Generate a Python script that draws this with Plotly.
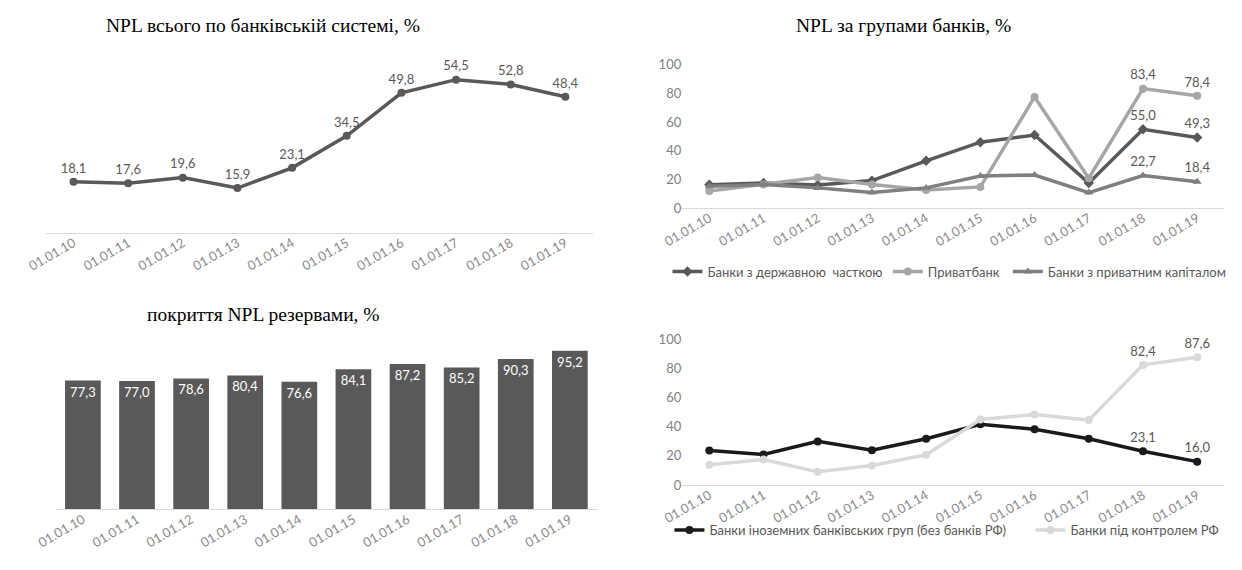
import plotly.graph_objects as go

dates = ["01.01.10", "01.01.11", "01.01.12", "01.01.13", "01.01.14",
         "01.01.15", "01.01.16", "01.01.17", "01.01.18", "01.01.19"]

npl_total = [18.1, 17.6, 19.6, 15.9, 23.1, 34.5, 49.8, 54.5, 52.8, 48.4]
coverage = [77.3, 77.0, 78.6, 80.4, 76.6, 84.1, 87.2, 85.2, 90.3, 95.2]

state_banks = [16.3, 17.5, 16.1, 19.2, 33.0, 46.0, 51.0, 17.5, 55.0, 49.3]
privatbank = [11.9, 16.4, 21.4, 16.4, 12.6, 14.8, 77.6, 20.9, 83.4, 78.4]
private_cap = [15.2, 16.4, 14.1, 10.8, 14.1, 22.4, 23.1, 10.8, 22.7, 18.4]

foreign_banks = [23.6, 20.9, 29.9, 23.8, 31.7, 41.6, 38.2, 31.7, 23.1, 16.0]
russian_banks = [13.9, 17.5, 9.0, 13.3, 20.7, 44.9, 48.3, 44.5, 82.4, 87.6]

titles = ["NPL всього по банківській системі, %",
          "NPL за групами банків, %",
          "покриття NPL резервами, %"]

W, H = 1234, 562   # figure sits at an 8px body offset inside the 1242x570 window
OFF = 8


def px(x):
    return (x - OFF) / W


def py(y):
    return 1 - (y - OFF) / H


def fmt(v):
    return f"{v:.1f}".replace(".", ",")


def last_two(vals):
    return ["" for _ in vals[:-2]] + [fmt(v) for v in vals[-2:]]


SANS = "Lato, Open Sans, sans-serif"
LBL = dict(family=SANS, size=13, color="#595959")

fig = go.Figure()

# Top-left: NPL total
fig.add_trace(go.Scatter(
    x=dates, y=npl_total, mode="lines+markers+text",
    line=dict(color="#595959", width=3.5), marker=dict(size=8, color="#595959"),
    text=[fmt(v) for v in npl_total], textposition="top center",
    textfont=LBL, showlegend=False, xaxis="x", yaxis="y", cliponaxis=False))

# Top-right: groups
fig.add_trace(go.Scatter(
    x=dates, y=state_banks, mode="lines+markers+text", name="Банки з державною  часткою",
    line=dict(color="#595959", width=3.5), marker=dict(size=8, symbol="diamond", color="#595959"),
    text=last_two(state_banks), textposition="top center", textfont=LBL,
    xaxis="x2", yaxis="y2", legend="legend", cliponaxis=False))
fig.add_trace(go.Scatter(
    x=dates, y=privatbank, mode="lines+markers+text", name="Приватбанк",
    line=dict(color="#a6a6a6", width=3.5), marker=dict(size=8, symbol="circle", color="#a6a6a6"),
    text=last_two(privatbank), textposition="top center", textfont=LBL,
    xaxis="x2", yaxis="y2", legend="legend2", cliponaxis=False))
fig.add_trace(go.Scatter(
    x=dates, y=private_cap, mode="lines+markers+text", name="Банки з приватним капіталом",
    line=dict(color="#7f7f7f", width=3.5), marker=dict(size=8, symbol="triangle-up", color="#7f7f7f"),
    text=last_two(private_cap), textposition="top center", textfont=LBL,
    xaxis="x2", yaxis="y2", legend="legend3", cliponaxis=False))

# Bottom-left: coverage bars
fig.add_trace(go.Bar(
    x=dates, y=coverage, marker=dict(color="#595959", line=dict(width=0)),
    text=[fmt(v) for v in coverage], textposition="inside", insidetextanchor="end",
    textfont=dict(family=SANS, size=13, color="white"),
    showlegend=False, xaxis="x3", yaxis="y3"))

# Bottom-right: foreign vs Russian
fig.add_trace(go.Scatter(
    x=dates, y=foreign_banks, mode="lines+markers+text",
    name="Банки іноземних банківських груп (без банків РФ)",
    line=dict(color="#1a1a1a", width=3.5), marker=dict(size=8, color="#1a1a1a"),
    text=last_two(foreign_banks), textposition="top center", textfont=LBL,
    xaxis="x4", yaxis="y4", legend="legend4", cliponaxis=False))
fig.add_trace(go.Scatter(
    x=dates, y=russian_banks, mode="lines+markers+text", name="Банки під контролем РФ",
    line=dict(color="#d9d9d9", width=3.5), marker=dict(size=8, color="#d9d9d9"),
    text=last_two(russian_banks), textposition="top center", textfont=LBL,
    xaxis="x4", yaxis="y4", legend="legend5", cliponaxis=False))

TICKF = dict(family=SANS, size=13, color="#8c8c8c")


def xax(x0, x1, anchor):
    return dict(domain=[px(x0), px(x1)], anchor=anchor, type="category", tickangle=-30,
                showline=True, linecolor="#d9d9d9", linewidth=1, showgrid=False,
                ticks="", tickfont=TICKF, range=[-0.5, 9.5], fixedrange=True,
                ticklabelstandoff=-3)


def yax(y0px, y1px, anchor, rng, show):
    return dict(domain=[py(y0px), py(y1px)], anchor=anchor, range=rng, showgrid=False,
                zeroline=False, showticklabels=show,
                tickvals=[0, 20, 40, 60, 80, 100] if show else None,
                tickfont=dict(family=SANS, size=13, color="#7f7f7f"), ticks="",
                showline=False, fixedrange=True)


def leg(xpx, ypx):
    return dict(orientation="h", x=px(xpx), xanchor="left", y=py(ypx), yanchor="middle",
                font=dict(family=SANS, size=13, color="#595959"),
                bgcolor="rgba(0,0,0,0)", itemwidth=30)


TFONT = dict(family="Liberation Serif, Times New Roman, serif", size=19.5, color="black")

fig.update_layout(
    width=W, height=H, margin=dict(l=0, r=0, t=0, b=0),
    paper_bgcolor="white", plot_bgcolor="white",
    bargap=0.34,
    xaxis=xax(26.5, 582, "y"),
    yaxis=yax(231, 40.3, "x", [0, 66], False),
    xaxis2=xax(673, 1224, "y2"),
    yaxis2=yax(205.7, 58.3, "x2", [0, 100], True),
    xaxis3=xax(36.3, 586.3, "y3"),
    yaxis3=yax(515.7, 344.4, "x3", [0, 100], False),
    xaxis4=xax(673, 1224, "y4"),
    yaxis4=yax(490.7, 340.7, "x4", [0, 100], True),
    legend=leg(658, 271),
    legend2=leg(882, 271),
    legend3=leg(1004, 271),
    legend4=leg(660, 537),
    legend5=leg(1027, 537),
    annotations=[
        dict(text=titles[0], x=px(247), y=py(18), xref="paper", yref="paper",
             showarrow=False, xanchor="center", yanchor="middle", font=TFONT),
        dict(text=titles[1], x=px(898), y=py(18), xref="paper", yref="paper",
             showarrow=False, xanchor="center", yanchor="middle", font=TFONT),
        dict(text=titles[2], x=px(247), y=py(315), xref="paper", yref="paper",
             showarrow=False, xanchor="center", yanchor="middle", font=TFONT),
    ],
)

fig.write_html("out.html")
